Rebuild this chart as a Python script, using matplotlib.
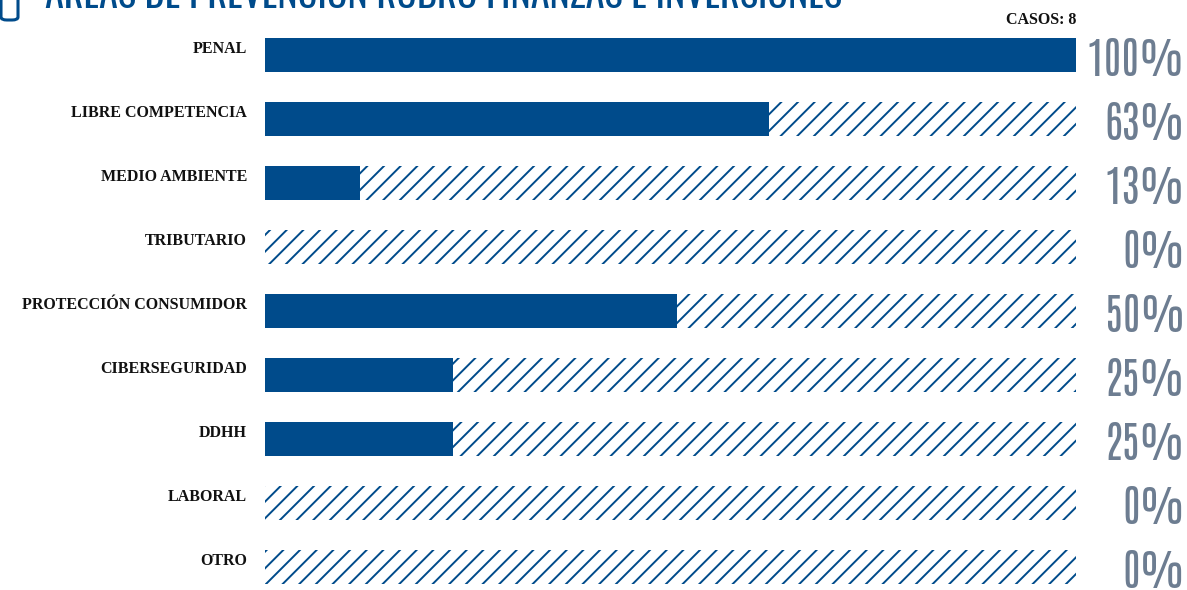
import matplotlib
matplotlib.use("Agg")
import matplotlib.pyplot as plt
from matplotlib.patches import FancyBboxPatch

categories = ["PENAL", "LIBRE COMPETENCIA", "MEDIO AMBIENTE", "TRIBUTARIO",
              "PROTECCIÓN CONSUMIDOR", "CIBERSEGURIDAD", "DDHH", "LABORAL", "OTRO"]
fill_values = [100, 62.1, 11.7, 0, 50.8, 23.2, 23.2, 0, 0]
pct_labels = ["100%", "63%", "13%", "0%", "50%", "25%", "25%", "0%", "0%"]
title = "ÁREAS DE PREVENCIÓN RUBRO FINANZAS E INVERSIONES"
cases_label = "CASOS: 8"

BLUE = "#004b8b"
GREY = "#6d7d91"
plt.rcParams['hatch.linewidth'] = 1.4

W, H, DPI = 1187, 590, 100
fig = plt.figure(figsize=(W / DPI, H / DPI), dpi=DPI)
ax = fig.add_axes([265 / W, 0, 811 / W, 1])
ax.set_xlim(0, 100)
ax.set_ylim((H - 55) / 64, -55 / 64)
ax.axis("off")

ypos = list(range(len(categories)))
ax.barh(ypos, [100] * len(categories), height=0.52, color="white",
        edgecolor=BLUE, linewidth=0, hatch="//")
ax.barh(ypos, fill_values, height=0.52, color=BLUE, linewidth=0)

serif = ['Liberation Serif', 'DejaVu Serif']
pctfont = ['Antonio', 'DejaVu Sans']
titlefont = ['Oswald', 'Anton', 'DejaVu Sans']
for y, cat, lab in zip(ypos, categories, pct_labels):
    ax.text(-2.2, y - 0.09, cat, ha="right", va="center", fontsize=11.5,
            fontfamily=serif, fontweight="bold", color="#111111")
    fig.text(1185 / W, 1 - (55 + 64 * y + 5) / H, lab, ha="right", va="center",
             fontsize=30.5, fontfamily=pctfont, color=GREY)

fig.text(1076 / W, 1 - 20 / H, cases_label, ha="right", va="center",
         fontsize=11.5, fontfamily=serif, fontweight="bold",
         color="#111111")

fig.text(45 / W, 1 - 8 / H, title, ha="left", va="baseline", fontsize=27.5,
         fontfamily=titlefont, fontweight="bold", color=BLUE)

icon = FancyBboxPatch((1 / W, 1 - 20 / H), 17 / W, 30 / H,
                      boxstyle="round,pad=0,rounding_size=0.005",
                      transform=fig.transFigure, facecolor="white",
                      edgecolor=BLUE, linewidth=2.2)
fig.patches.append(icon)

fig.savefig("out.png", dpi=DPI)
